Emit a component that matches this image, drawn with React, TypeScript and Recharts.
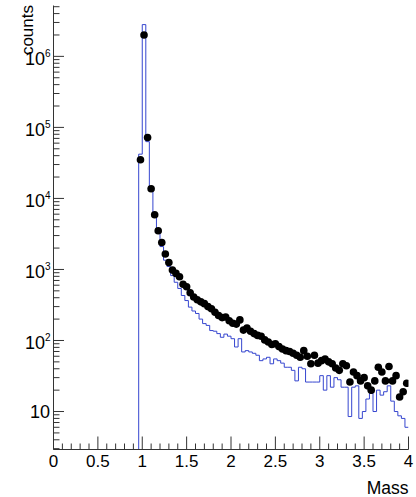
import { ComposedChart, Line, Scatter, XAxis, YAxis } from "recharts";

// histogram binning: 76 bins of 0.04 starting at 0.96
const firstEdge = 0.96;
const binWidth = 0.04;

// blue histogram (MC), one count per bin
const mcCounts = [
  42000, 2800000, 63000, 13000, 5800, 3300, 2100, 1350, 1100, 820,
  660, 540, 430, 365, 295, 260, 240, 200, 173, 163,
  138, 135, 125, 111, 123, 115, 106, 81, 106, 69,
  72, 69, 66, 62, 52, 55, 58, 47, 55, 52,
  48, 42, 42, 38, 27, 42, 40, 26, 26, 26,
  26, 32, 20, 32, 22, 30, 28, 22, 22, 8.5,
  22, 23, 8, 10, 15, 18, 10, 20, 17, 19,
  23, 14, 10, 8.7, 8, 6,
];

// black markers (data), one count per bin
const dataCounts = [
  35000, 2000000, 72000, 13700, 5900, 3500, 2400, 1650, 1250, 980,
  880, 790, 620, 570, 470, 410, 375, 350, 330, 300,
  280, 250, 225, 210, 214, 190, 175, 170, 195, 140,
  150, 135, 125, 118, 115, 102, 95, 88, 90, 82,
  76, 72, 70, 66, 62, 58, 72, 60, 47, 62,
  48, 52, 55, 50, 47, 41, 38, 47, 44, 26,
  36, 32, 27, 30, 23, 20, 27, 42, 36, 27,
  43, 27, 32, 16, 19, 25,
];

const xMajor = [0, 0.5, 1, 1.5, 2, 2.5, 3, 3.5, 4];
const xMinorStep = 0.1;
const yDecades = [1, 10, 100, 1000, 10000, 100000, 1000000];
const yMin = 2.92;
const yMax = 5.2e6;

const FONT = "'Liberation Sans', Arial, Helvetica, sans-serif";
const AXIS = "#333";
const BLUE = "#3646cf";

const edges = mcCounts.map((_, i) => +(firstEdge + i * binWidth).toFixed(2));

// stepAfter line: drop to the floor at the first edge, close at x = 4
const histData = [
  { x: edges[0], y: yMin },
  ...mcCounts.map((c, i) => ({ x: edges[i], y: c })),
  { x: +(edges[edges.length - 1] + binWidth).toFixed(2), y: mcCounts[mcCounts.length - 1] },
];

const pointData = dataCounts.map((c, i) => ({ x: +(edges[i] + binWidth / 2).toFixed(2), y: c }));

const xTicks: number[] = [];
for (let v = 0; v <= 4.0001; v += xMinorStep) xTicks.push(+v.toFixed(1));

const yTicks: number[] = [];
yDecades.forEach((d) => {
  for (let m = 1; m <= 9; m++) {
    const v = d * m;
    if (v >= yMin && v <= yMax) yTicks.push(v);
  }
});

function XTick(props: any) {
  const { x, y, payload } = props;
  const v = payload.value as number;
  const major = xMajor.some((m) => Math.abs(m - v) < 1e-6);
  return (
    <g>
      <line x1={x} x2={x} y1={y} y2={y - (major ? 13 : 6)} stroke={AXIS} />
      {major && (
        <text x={x} y={y + 17} textAnchor="middle" fontSize={17} fontFamily={FONT} fill="#000">
          {String(v)}
        </text>
      )}
    </g>
  );
}

function YTick(props: any) {
  const { x, y, payload } = props;
  const v = payload.value as number;
  const exp = Math.round(Math.log10(v));
  const major = yDecades.includes(v);
  return (
    <g>
      <line x1={x} x2={x + (major ? 10.5 : 6)} y1={y} y2={y} stroke={AXIS} />
      {major && exp === 1 && (
        <text x={50} y={y + 6.5} textAnchor="end" fontSize={18} fontFamily={FONT} fill="#000">
          10
        </text>
      )}
      {major && exp > 1 && (
        <text x={50.5} y={y + 8.5} textAnchor="end" fontSize={18} fontFamily={FONT} fill="#000">
          10
          <tspan dy={-8} fontSize={10}>
            {exp}
          </tspan>
        </text>
      )}
    </g>
  );
}

function CountsTitle() {
  return (
    <text transform="translate(33,5) rotate(-90)" textAnchor="end" fontSize={17} fontFamily={FONT} fill="#000">
      counts
    </text>
  );
}

function MassTitle() {
  return (
    <text x={408.5} y={493.5} textAnchor="end" fontSize={17.5} fontFamily={FONT} fill="#000">
      Mass
    </text>
  );
}

function Dot(props: any) {
  return <circle cx={props.cx} cy={props.cy} r={3.8} fill="#000" />;
}

export default function App() {
  return (
    <div style={{ position: "absolute", left: 0, top: 0, width: 416, height: 497, background: "#fff" }}>
      <ComposedChart width={416} height={497} margin={{ top: 5.5, right: 7.5, left: 0, bottom: 0 }}>
        <XAxis
          xAxisId="b"
          type="number"
          dataKey="x"
          domain={[0, 4]}
          allowDataOverflow
          ticks={xTicks}
          interval={0}
          tickSize={0}
          tickMargin={0}
          tickLine={false}
          tick={<XTick />}
          height={47.5}
          stroke={AXIS}
          label={<MassTitle />}
        />
        <XAxis xAxisId="t" orientation="top" type="number" domain={[0, 4]} height={0} tick={false} tickLine={false} stroke={AXIS} />
        <YAxis
          yAxisId="l"
          type="number"
          scale="log"
          domain={[yMin, yMax]}
          allowDataOverflow
          ticks={yTicks}
          interval={0}
          tickSize={0}
          tickMargin={0}
          tickLine={false}
          tick={<YTick />}
          width={53.5}
          stroke={AXIS}
          label={<CountsTitle />}
        />
        <YAxis yAxisId="r" orientation="right" width={0} tick={false} tickLine={false} stroke={AXIS} />
        <Line
          xAxisId="b"
          yAxisId="l"
          data={histData}
          dataKey="y"
          type="stepAfter"
          stroke={BLUE}
          strokeWidth={1}
          dot={false}
          isAnimationActive={false}
        />
        <Scatter
          xAxisId="b"
          yAxisId="l"
          data={pointData}
          dataKey="y"
          shape={<Dot />}
          isAnimationActive={false}
        />
      </ComposedChart>
    </div>
  );
}
